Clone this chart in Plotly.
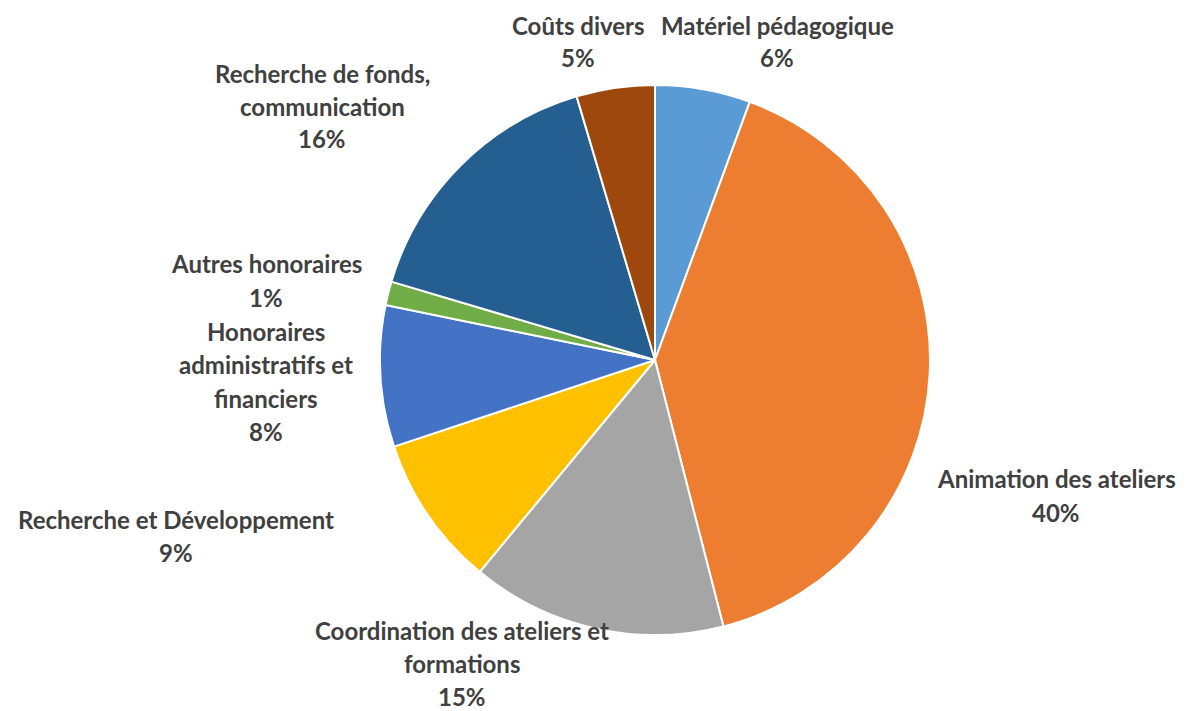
import plotly.graph_objects as go

# Data
categories = ["Matériel pédagogique", "Animation des ateliers",
              "Coordination des ateliers et formations", "Recherche et Développement",
              "Honoraires administratifs et financiers", "Autres honoraires",
              "Recherche de fonds, communication", "Coûts divers"]
values = [5.6, 40.4, 15.0, 8.9, 8.3, 1.4, 15.8, 4.6]
colors = ["#5B9BD5", "#ED7D31", "#A5A5A5", "#FFC000", "#4472C4", "#70AD47", "#255E91", "#9E480E"]

# Wrapped label lines, as in the original
label_lines = [["Matériel pédagogique"], ["Animation des ateliers"],
               ["Coordination des ateliers et", "formations"], ["Recherche et Développement"],
               ["Honoraires", "administratifs et", "financiers"], ["Autres honoraires"],
               ["Recherche de fonds,", "communication"], ["Coûts divers"]]
# Label anchor positions in page pixels (center x, first line y)
label_pos = [(777, 25), (1056, 479), (462, 630), (176, 519), (266, 332), (266, 264), (322, 73), (578, 25)]

OFF = 8  # page body margin
W, H = 1187 - OFF, 711 - OFF
LINE = 33
total = sum(values)


def px_x(x):
    return (x - OFF) / W


def px_y(y):
    return 1 - (y - OFF) / H


fig = go.Figure(go.Pie(
    labels=categories, values=values, sort=False, direction="clockwise", rotation=0,
    marker=dict(colors=colors, line=dict(color="white", width=2)),
    textinfo="none", hoverinfo="label+percent",
    domain=dict(x=[px_x(380), px_x(930)], y=[px_y(635), px_y(85)]),
    showlegend=False,
))

annotations = []
for lines, v, (px, py) in zip(label_lines, values, label_pos):
    all_lines = lines + [f"{round(v / total * 100)}%"]
    for i, t in enumerate(all_lines):
        annotations.append(dict(
            x=px_x(px), y=px_y(py + i * LINE), xref="paper", yref="paper",
            text=t, showarrow=False, xanchor="center", yanchor="middle",
            borderpad=0,
            font=dict(family="Lato", size=24, color="#404040", weight="bold"),
        ))

fig.update_layout(
    width=W, height=H, margin=dict(l=0, r=0, t=0, b=0),
    paper_bgcolor="white", plot_bgcolor="white",
    annotations=annotations,
)
fig.write_html("out.html")
